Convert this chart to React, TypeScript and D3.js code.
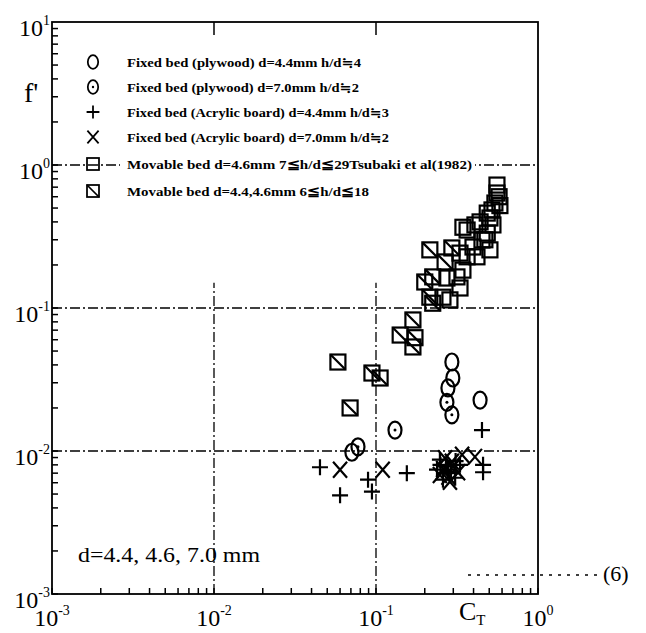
import React from "react";
import { scaleLog } from "d3";

// [C_T, f'] pairs
const fixedPlywood44 = [[0.294, 0.0419], [0.298, 0.0324], [0.278, 0.0276], [0.439, 0.0227], [0.071, 0.0098]];
const fixedPlywood70 = [[0.274, 0.0219], [0.294, 0.0179], [0.131, 0.014], [0.0774, 0.0107]];
const fixedAcrylic44 = [
  [0.0451, 0.0077], [0.06, 0.0049], [0.0893, 0.0063], [0.0944, 0.0052], [0.155, 0.007],
  [0.451, 0.014], [0.458, 0.008], [0.458, 0.0071],
  [0.248, 0.0087], [0.278, 0.0074], [0.308, 0.0065], [0.259, 0.0063], [0.33, 0.008], [0.238, 0.0074],
  [0.27, 0.0078], [0.29, 0.007], [0.25, 0.008], [0.31, 0.0085],
];
const fixedAcrylic70 = [
  [0.06, 0.0074], [0.11, 0.0074], [0.408, 0.0091],
  [0.267, 0.0089], [0.294, 0.0084], [0.248, 0.0068], [0.321, 0.0071], [0.286, 0.0061], [0.34, 0.0094],
  [0.26, 0.0075], [0.3, 0.0078], [0.28, 0.0066],
];
const movableTsubaki = [
  [0.558, 0.724], [0.558, 0.637], [0.542, 0.542], [0.52, 0.485], [0.505, 0.426], [0.527, 0.381],
  [0.486, 0.334], [0.451, 0.299], [0.397, 0.267], [0.365, 0.351], [0.344, 0.367], [0.408, 0.381],
  [0.439, 0.4], [0.486, 0.461], [0.505, 0.255], [0.42, 0.228], [0.365, 0.228], [0.33, 0.242],
  [0.344, 0.184], [0.316, 0.165], [0.33, 0.138], [0.274, 0.162], [0.286, 0.114], [0.259, 0.119],
  [0.582, 0.52], [0.575, 0.6], [0.47, 0.3],
];
const movable4446 = [
  [0.215, 0.255], [0.294, 0.263], [0.267, 0.21], [0.2, 0.152], [0.224, 0.165], [0.224, 0.108],
  [0.215, 0.119], [0.169, 0.0825], [0.141, 0.0647], [0.174, 0.062], [0.169, 0.0534],
  [0.0582, 0.0419], [0.0944, 0.0351], [0.106, 0.0324], [0.0692, 0.02],
];

const legendLabels = [
  "Fixed bed (plywood) d=4.4mm h/d≒4",
  "Fixed bed (plywood) d=7.0mm h/d≒2",
  "Fixed bed (Acrylic board) d=4.4mm h/d≒3",
  "Fixed bed (Acrylic board) d=7.0mm h/d≒2",
  "Movable bed  d=4.6mm 7≦h/d≦29Tsubaki et al(1982)",
  "Movable bed d=4.4,4.6mm 6≦h/d≦18",
];
const legendWidths = [234, 232, 262, 262, 345, 242];
const xTickExp = ["-3", "-2", "-1", "0"];
const yTickExp = ["-3", "-2", "-1", "0", "1"];

const serif = "'Liberation Serif', 'DejaVu Serif', serif";

function Marker({ kind, x, y, s = 1 }) {
  const common = { fill: "none", stroke: "#000", strokeWidth: 2.2 };
  const t = `translate(${x},${y}) scale(${s})`;
  if (kind === "circle" || kind === "dotcircle")
    return (
      <g transform={t}>
        <ellipse rx={6.5} ry={8.5} {...common} />
        {kind === "dotcircle" && <circle r={1.5} fill="#000" />}
      </g>
    );
  if (kind === "plus") return <path transform={t} d="M-8,0H8M0,-8V8" {...common} />;
  if (kind === "cross") return <path transform={t} d="M-7,-8L7,8M-7,8L7,-8" {...common} />;
  return (
    <g transform={t}>
      <rect x={-7.5} y={-7.5} width={15} height={15} {...common} />
      {kind === "hatch" && <path d="M-7.5,-7.5L7.5,7.5" {...common} />}
    </g>
  );
}

export default function App() {
  const x = scaleLog().domain([1e-3, 1]).range([52, 538]);
  const y = scaleLog().domain([1e-3, 10]).range([594, 22]);

  const series = [
    { kind: "circle", data: fixedPlywood44 },
    { kind: "dotcircle", data: fixedPlywood70 },
    { kind: "plus", data: fixedAcrylic44 },
    { kind: "cross", data: fixedAcrylic70 },
    { kind: "square", data: movableTsubaki },
    { kind: "hatch", data: movable4446 },
  ];

  const yMinor = y.ticks().filter((v) => v < 10);
  const xMinor = x.ticks();
  const dash = "10,3,2,3";

  return (
    <svg width={646} height={633} style={{ position: "absolute", left: 0, top: 0, background: "#fff" }}>
      {/* grid */}
      {[1, 0.1, 0.01].map((v) => (
        <line key={"h" + v} x1={x(1e-3)} x2={x(1)} y1={y(v)} y2={y(v)} stroke="#000" strokeWidth={1.3} strokeDasharray={dash} />
      ))}
      {[0.01, 0.1].map((v) => (
        <line key={"v" + v} x1={x(v)} x2={x(v)} y1={y(1e-3)} y2={y(0.15)} stroke="#000" strokeWidth={1.3} strokeDasharray={dash} />
      ))}

      {/* frame */}
      <rect x={x(1e-3)} y={y(10)} width={x(1) - x(1e-3)} height={y(1e-3) - y(10)} fill="none" stroke="#000" strokeWidth={1.8} />
      {yMinor.map((v, i) => (
        <line key={"ly" + i} x1={x(1e-3)} x2={x(1e-3) + 6} y1={y(v)} y2={y(v)} stroke="#000" strokeWidth={1.5} />
      ))}
      {xMinor.map((v, i) => (
        <line key={"bx" + i} x1={x(v)} x2={x(v)} y1={y(1e-3)} y2={y(1e-3) - 6} stroke="#000" strokeWidth={1.5} />
      ))}
      {[0.01, 0.1].map((v) => (
        <line key={"tx" + v} x1={x(v)} x2={x(v)} y1={y(10)} y2={y(10) + 13} stroke="#000" strokeWidth={1.5} />
      ))}

      {/* tick labels */}
      <g fontFamily={serif} fill="#000">
        {xTickExp.map((e) => (
          <text key={"xl" + e} x={x(Math.pow(10, +e))} y={626} textAnchor="middle" fontSize={24}>
            10<tspan dy={-11} fontSize={14}>{e}</tspan>
          </text>
        ))}
        {yTickExp.map((e) => (
          <text key={"yl" + e} x={50} y={y(Math.pow(10, +e)) + 14} textAnchor="end" fontSize={24}>
            10<tspan dy={-11} fontSize={14}>{e}</tspan>
          </text>
        ))}
        <text x={24} y={102} fontSize={28}>f'</text>
        <text x={459} y={620} fontSize={26}>
          C<tspan dy={5} fontSize={15}>T</tspan>
        </text>
        <text x={78} y={562} fontSize={20} textLength={182} lengthAdjust="spacingAndGlyphs">d=4.4, 4.6, 7.0 mm</text>
        <text x={603} y={581} fontSize={22}>(6)</text>
      </g>
      <line x1={468} x2={602} y1={575} y2={575} stroke="#000" strokeWidth={1.6} strokeDasharray="3,6" />

      {/* data */}
      {series.map((s) =>
        s.data.map((d, i) => <Marker key={s.kind + i} kind={s.kind} x={x(d[0])} y={y(d[1])} />)
      )}

      {/* legend */}
      {legendLabels.map((label, i) => {
        const cy = [62, 87, 112, 137, 164, 191][i];
        return (
          <g key={"lg" + i}>
            <rect x={120} y={cy - 8} width={legendWidths[i] + 10} height={16} fill="#fff" />
            <Marker kind={series[i].kind} x={93} y={cy} s={0.8} />
            <text x={127} y={cy + 4.5} fontFamily={serif} fontWeight="bold" fontSize={12.5}
              textLength={legendWidths[i]} lengthAdjust="spacingAndGlyphs">{label}</text>
          </g>
        );
      })}
    </svg>
  );
}
